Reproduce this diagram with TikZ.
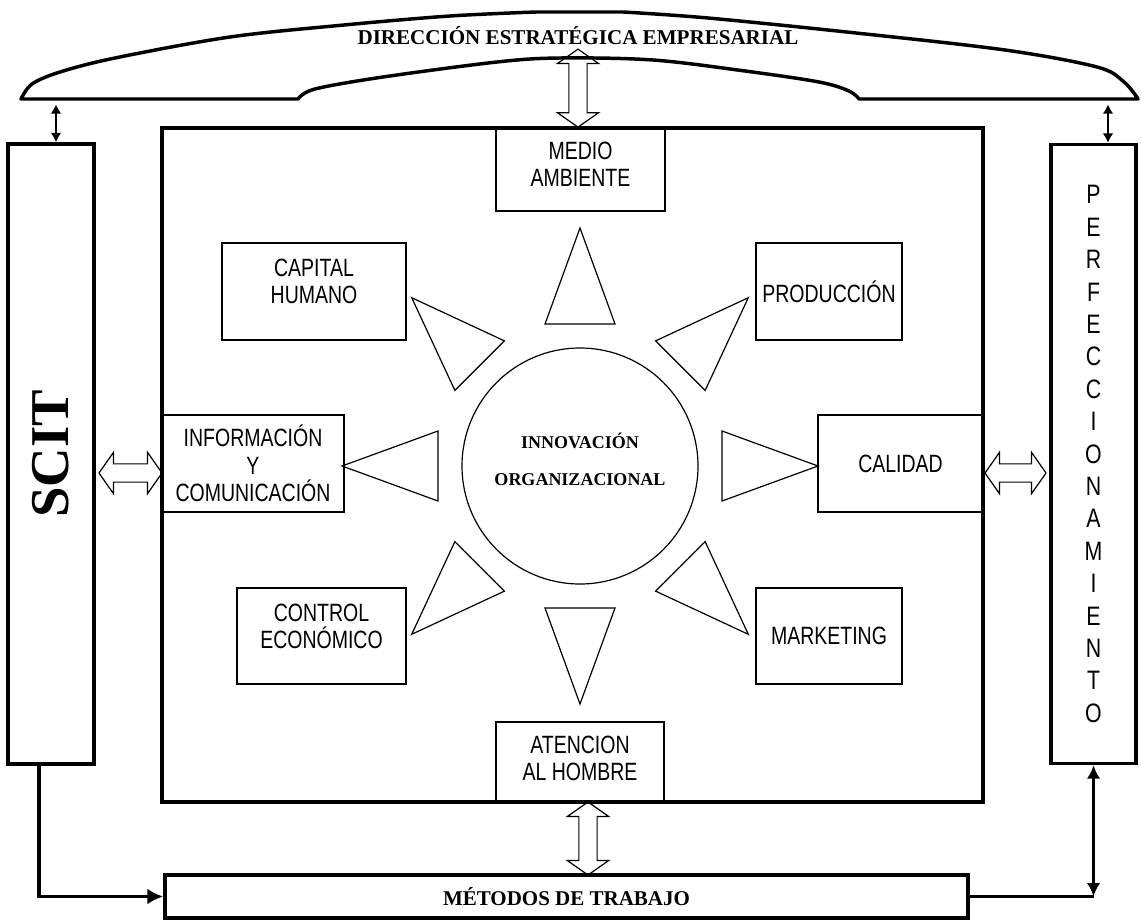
\documentclass[tikz,border=0pt]{standalone}
\usepackage{graphicx}
\usepackage{fontspec}
\setmainfont{Liberation Serif}
\newfontfamily\labelfont{Liberation Sans}[FakeStretch=0.78]
\newfontfamily\barfont{Liberation Sans}[FakeStretch=0.8]
\usetikzlibrary{calc,shapes.arrows,arrows.meta}

\begin{document}
\begin{tikzpicture}[
    x=0.75pt, y=-0.75pt, % one unit per pixel, y going down
    heavy/.style={draw, line width=2.6pt, inner sep=0pt},
    box/.style={draw, line width=1.2pt, align=center, inner sep=0pt,
        font=\labelfont\fontsize{18.75pt}{20.6pt}\selectfont},
    ray/.style={draw, line width=0.9pt, line join=miter},
    hollow/.style={double arrow, draw, line width=0.9pt, inner sep=0pt, inner ysep=6.4pt,
        minimum width=0pt, double arrow head extend=8.6pt,
        double arrow tip angle=110},
    link/.style={line width=2.6pt, -{Latex[length=12pt,width=12pt]}},
    tick/.style={line width=2pt, {Latex[length=7pt,width=8pt]}-{Latex[length=7pt,width=8pt]}}
]
\useasboundingbox (0,0) rectangle (1141,920);

% Banner on top
\draw[heavy, line join=round]
    plot[smooth, tension=0.55] coordinates {(21,99) (32,84) (60,72) (115,58) (230,37) (344,25) (450,16) (536,12)}
    -- (623,12)
    -- plot[smooth, tension=0.55] coordinates {(623,12) (708,18) (856,33) (1005,50) (1097,67) (1124,82) (1138,99)}
    -- (859,99)
    -- plot[smooth, tension=0.55] coordinates {(859,99) (849,91) (819,82) (745,71) (653,60) (560,58) (497,62) (383,77) (315,89) (298,99)}
    -- cycle;
\node (dir) at (578,36) [font=\bfseries\fontsize{15.8pt}{17pt}\selectfont] {DIRECCIÓN ESTRATÉGICA EMPRESARIAL};
\coordinate (banL) at (56,99);
\coordinate (banR) at (1108,99);
\coordinate (banC) at (578,50);

% Frame and side bars
\node (main) [heavy, minimum width=615.75pt, minimum height=505.5pt] at (572.5,465) {};
\node (scit) [heavy, minimum width=64.5pt, minimum height=465pt,
    font=\bfseries\fontsize{41pt}{41pt}\selectfont] at (51,454) {\rotatebox{90}{SCIT}};
\node (perf) [heavy, minimum width=63.75pt, minimum height=464.25pt, align=center,
    font=\barfont\fontsize{20pt}{24.3pt}\selectfont] at (1093.5,454)
    {P\\E\\R\\F\\E\\C\\C\\I\\O\\N\\A\\M\\I\\E\\N\\T\\O};
\node (metodos) [heavy, minimum width=602.25pt, minimum height=32.25pt,
    font=\bfseries\fontsize{15.75pt}{17pt}\selectfont] at (566.5,896.5) {MÉTODOS DE TRABAJO};

% Centre
\node (core) [circle, draw, line width=0.9pt, minimum size=177pt, inner sep=0pt, align=center,
    text depth=10pt, font=\bfseries\fontsize{13.5pt}{27.75pt}\selectfont] at (580,466) {INNOVACIÓN\\ORGANIZACIONAL};
\foreach \ang in {0,45,...,315}
    \draw[ray] ($(core)+(\ang+13.85:146.25)$) -- ($(core)+(\ang:238)$)
        -- ($(core)+(\ang-13.85:146.25)$) -- cycle;

% Areas
\node (medio) [box, minimum width=126.75pt, minimum height=62.25pt, text depth=7.5pt] at (580.5,169.5) {MEDIO\\AMBIENTE};
\node (capital) [box, minimum width=138pt, minimum height=72.75pt, text depth=15pt] at (314,291.5) {CAPITAL\\HUMANO};
\node (produccion) [box, minimum width=109.5pt, minimum height=72.75pt] at (829,291.5) {PRODUCCIÓN};
\node (info) [box, minimum width=136.5pt, minimum height=72.75pt] at (253,463.5) {INFORMACIÓN\\Y\\COMUNICACIÓN};
\node (calidad) [box, minimum width=123.75pt, minimum height=72.75pt] at (900.5,463.5) {CALIDAD};
\node (control) [box, minimum width=126.75pt, minimum height=72pt, text depth=15pt] at (321.5,636) {CONTROL\\ECONÓMICO};
\node (marketing) [box, minimum width=109.5pt, minimum height=72pt] at (829,636) {MARKETING};
\node (atencion) [box, minimum width=126pt, minimum height=60pt, text depth=6pt] at (580,762) {ATENCION\\AL HOMBRE};

% Hollow arrows
\node (arrTop) [hollow, rotate=90, minimum height=58.5pt] at ($(banC)!.5!(banC |- main.north)$) {};
\node (arrBot) [hollow, rotate=90, minimum height=54.75pt] at (588,838.5) {};
\node (arrLeft) [hollow, minimum height=47.25pt] at (130.5,473) {};
\node (arrRight) [hollow, minimum height=45.75pt] at (1015.5,473) {};

% Connectors
\draw[tick] ([yshift=-4pt]banL) -- (banL |- scit.north);
\draw[tick] ([yshift=-4pt]banR) -- (banR |- perf.north);
\draw[link] ([xshift=-9pt]scit.south) |- (metodos.west);
\coordinate (turn) at (perf.south |- metodos.east);
\draw[line width=2.6pt] (metodos.east) -- (turn);
\draw[line width=2.6pt, {Latex[length=10pt,width=10pt]}-{Latex[length=10pt,width=10pt]}] (turn) -- (perf.south);

\end{tikzpicture}
\end{document}
